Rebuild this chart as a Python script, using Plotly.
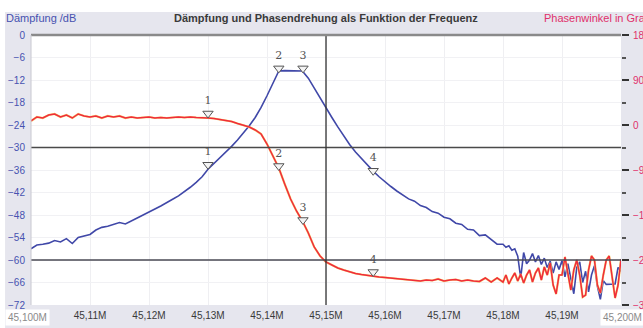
import numpy as np
import plotly.graph_objects as go

# frequency grid (MHz): 0.001 steps to 45.180, then 0.0005 steps to 45.200
freq_a = np.round(45.100 + 0.001 * np.arange(81), 4)
freq_b = np.round(45.1805 + 0.0005 * np.arange(40), 4)
freq = np.concatenate([freq_a, freq_b])

# attenuation (dB), left axis
daempfung = [
    -57.0, -56.0, -55.8, -55.5, -54.8, -55.2, -54.3, -55.6, -54.0, -53.5,
    -53.2, -52.0, -51.3, -51.0, -50.6, -50.0, -50.4, -49.5, -48.8, -48.0,
    -47.3, -46.4, -45.6, -44.8, -43.8, -42.9, -41.8, -40.6, -39.3, -37.8,
    -35.8, -34.3, -32.9, -31.3, -29.7, -28.0, -26.2, -24.2, -22.0, -19.3,
    -16.2, -12.8, -9.6, -9.5, -9.5, -9.5, -9.6, -11.5, -14.2, -16.8,
    -19.3, -22.0, -24.5, -27.0, -29.2, -31.2, -33.0, -34.7, -36.3, -37.8,
    -39.2, -40.4, -41.6, -42.6, -43.7, -44.3, -45.5, -46.0, -47.1, -47.5,
    -48.6, -49.0, -50.2, -50.5, -51.8, -52.0, -53.5, -53.3, -54.6, -55.8,
    -55.8,
    -56.6, -56.2, -57.4, -57.0, -59.0, -64.8, -58.0, -61.0, -60.0, -58.3,
    -60.5, -58.8, -61.2, -59.5, -62.0, -60.3, -63.5, -60.5, -62.5, -60.2,
    -64.5, -61.0, -65.0, -69.0, -62.0, -60.5, -66.0, -63.0, -68.5, -64.0,
    -61.5, -67.0, -70.5, -65.5, -66.5, -66.5, -66.5, -66.4, -62.0, -63.0,
]

# phase angle (degrees), right axis
phase = [
    8, 16, 14, 20, 22, 16, 20, 14, 22, 18,
    16, 18, 14, 18, 16, 18, 14, 16, 14, 15,
    16, 14, 15, 14, 15, 16, 15, 16, 15, 15,
    14, 13, 11, 9, 7, 3, 0, -4, -10, -18,
    -38, -62, -86, -118, -148, -172, -192, -216, -244, -262,
    -274, -280, -286, -290, -294, -297, -299, -301, -302, -304,
    -305, -306, -308, -309, -310, -310, -312, -310, -311, -308,
    -312, -310, -309, -312, -310, -312, -313, -306, -314, -306,
    -314,
    -300, -318, -306, -296, -312, -298, -316, -300, -290, -314,
    -296, -286, -310, -284, -300, -276, -320, -338, -300, -300,
    -264, -300, -330, -290, -270, -300, -344, -340, -290, -262,
    -270, -320, -336, -300, -270, -262, -300, -346, -320, -268,
]

# markers
marker_labels = ["1", "2", "3", "4"]
marker_freq = [45.1300, 45.1420, 45.1461, 45.1580]
marker_db = [-34.6, -8.9, -8.9, -36.2]
marker_phase = [23, -82, -190, -294]

x_tickvals = [45.11, 45.12, 45.13, 45.14, 45.15, 45.16, 45.17, 45.18, 45.19]
x_ticktext = ["45,11M", "45,12M", "45,13M", "45,14M", "45,15M",
              "45,16M", "45,17M", "45,18M", "45,19M"]
y_tickvals = [0, -6, -12, -18, -24, -30, -36, -42, -48, -54, -60, -66, -72]
y2_tickvals = [180, 90, 0, -90, -180, -270, -360]

BLUE = "#4048a8"
RED = "#f02c3c"
FONT = "Liberation Sans, Arial, sans-serif"

fig = go.Figure()

fig.add_trace(go.Scatter(x=freq, y=phase, yaxis="y2", mode="lines",
                         line=dict(color="#f6d070", width=2.2), hoverinfo="skip"))
fig.add_trace(go.Scatter(x=freq, y=phase, yaxis="y2", mode="lines",
                         line=dict(color=RED, width=1.5)))
fig.add_trace(go.Scatter(x=freq, y=daempfung, mode="lines",
                         line=dict(color=BLUE, width=1.6)))

mk = dict(symbol="triangle-down", size=9, color="#f4f4f4",
          line=dict(color="#555555", width=1))
fig.add_trace(go.Scatter(x=marker_freq, y=marker_db, mode="markers+text",
                         text=marker_labels, textposition="top center",
                         textfont=dict(family="DejaVu Serif, serif", size=11, color="#555555"),
                         marker=mk))
fig.add_trace(go.Scatter(x=marker_freq, y=marker_phase, yaxis="y2", mode="markers+text",
                         text=marker_labels, textposition="top center",
                         textfont=dict(family="DejaVu Serif, serif", size=11, color="#555555"),
                         marker=mk))

shapes = [
    # white outer margins (top / left)
    dict(type="rect", xref="paper", yref="paper", x0=-0.06, x1=1.05, y0=1.085, y1=1.2,
         fillcolor="white", line=dict(width=0), layer="above"),
    dict(type="rect", xref="paper", yref="paper", x0=-0.06, x1=-0.044, y0=-0.2, y1=1.2,
         fillcolor="white", line=dict(width=0), layer="above"),
    # reference lines
    dict(type="line", xref="paper", yref="y", x0=0, x1=1, y0=-30, y1=-30,
         line=dict(color="#4a4a4a", width=1.3)),
    dict(type="line", xref="paper", yref="y", x0=0, x1=1, y0=-60, y1=-60,
         line=dict(color="#4a4a55", width=1.3)),
    dict(type="line", xref="x", yref="paper", x0=45.15, x1=45.15, y0=0, y1=1,
         line=dict(color="#333333", width=1.3)),
    # top border
    dict(type="line", xref="paper", yref="paper", x0=0, x1=1, y0=1, y1=1,
         line=dict(color="#8a8a8a", width=2.5)),
    dict(type="line", xref="paper", yref="paper", x0=0, x1=0, y0=0, y1=1,
         line=dict(color="#c8c8d0", width=1)),
]

annotations = [
    dict(text="<b>Dämpfung und Phasendrehung als Funktion der Frequenz</b>",
         xref="paper", yref="paper", x=0.50, y=1.0, yshift=17, showarrow=False,
         font=dict(family=FONT, size=11, color="#3a3a3a"), xanchor="center", yanchor="middle"),
    dict(text="Dämpfung /dB", xref="paper", yref="paper", x=0, xshift=-27, y=1.0, yshift=17,
         showarrow=False, font=dict(family=FONT, size=11, color="#4752b0"),
         xanchor="left", yanchor="middle"),
    dict(text="Phasenwinkel in Grad", xref="paper", yref="paper", x=1, xshift=-79, y=1.0, yshift=17,
         showarrow=False, font=dict(family=FONT, size=11, color="#e0306a"),
         xanchor="left", yanchor="middle"),
    dict(text="45,100M", xref="paper", yref="paper", x=0, xshift=-26, y=0, yshift=-12,
         showarrow=False, font=dict(family=FONT, size=10, color="#8a8a8a"),
         xanchor="left", yanchor="middle", bgcolor="white", borderpad=2),
    dict(text="45,200M", xref="paper", yref="paper", x=1, xshift=-21, y=0, yshift=-12,
         showarrow=False, font=dict(family=FONT, size=10, color="#8a8a8a"),
         xanchor="left", yanchor="middle", bgcolor="white", borderpad=2),
]

fig.update_layout(
    width=643, height=328,
    margin=dict(l=31, r=22, t=35, b=23, pad=0, autoexpand=False),
    paper_bgcolor="#e6e6ee",
    plot_bgcolor="white",
    showlegend=False,
    font=dict(family=FONT),
    shapes=shapes,
    annotations=annotations,
    xaxis=dict(range=[45.1, 45.2], tickvals=x_tickvals, ticktext=x_ticktext,
               showgrid=True, gridcolor="#efeff2", gridwidth=1, zeroline=False,
               showline=False, ticks="", tickfont=dict(size=10, color="#3a3a3a"),
               ticklabelstandoff=3, automargin=False),
    yaxis=dict(range=[-72, 0], tickvals=y_tickvals, showgrid=True, gridcolor="#f1f1f4",
               zeroline=False, showline=False, ticks="",
               tickfont=dict(size=10, color="#4752b0"), ticklabelstandoff=5,
               automargin=False),
    yaxis2=dict(range=[-360, 180], overlaying="y", side="right", tickvals=y2_tickvals,
                showgrid=False, zeroline=False, showline=False,
                ticks="outside", ticklen=7, tickwidth=2, tickcolor="#333333",
                minor=dict(tickvals=[135, 45, -45, -135, -225, -315], ticks="outside",
                           ticklen=4, tickwidth=2, tickcolor="#555555"),
                tickfont=dict(size=10, color="#e0306a"), ticklabelstandoff=2,
                automargin=False),
)

fig.write_html("out.html")
